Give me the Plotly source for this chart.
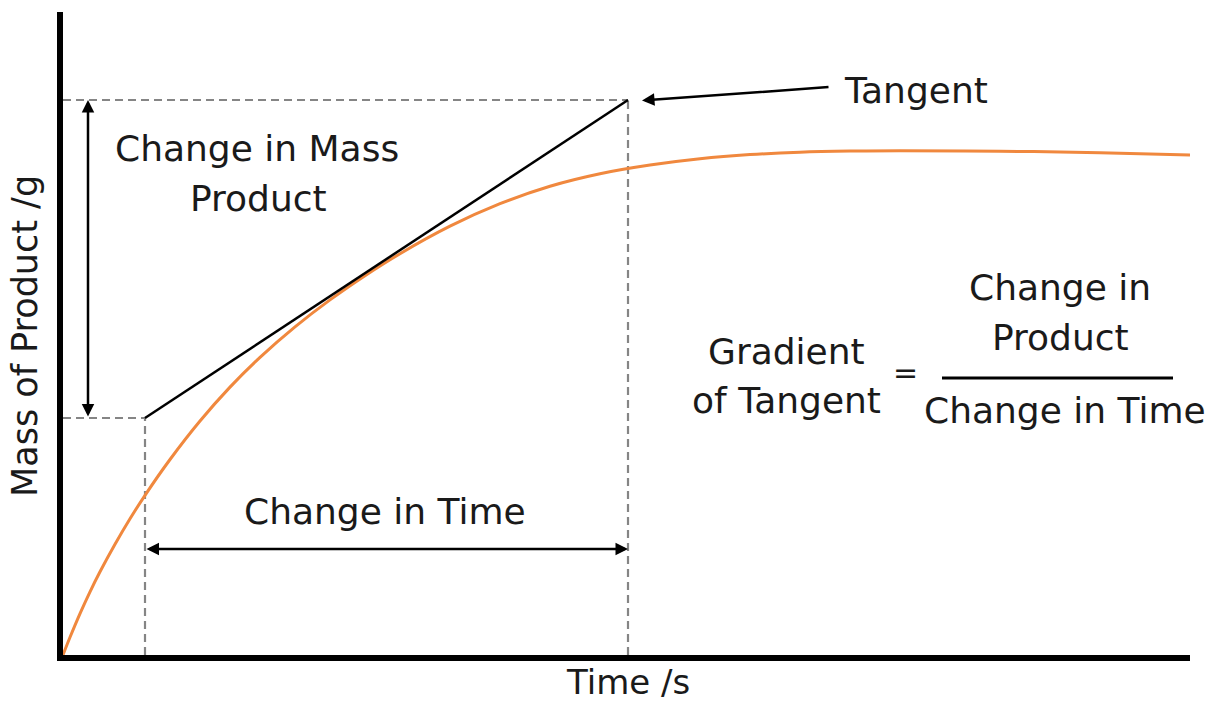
import plotly.graph_objects as go

# Reaction curve (time in arbitrary s units, mass in arbitrary g units)
time = [0, 0.7, 1.7, 2.7, 3.7, 5.2, 6.7, 8.2, 10.7, 13.7, 16.7, 19.7, 23.2, 26.7, 30.2,
        33.7, 38.7, 43.7, 48.7, 53.7, 58.7, 63.7, 68.7, 73.7, 78.7, 83.7, 93.7, 103.7, 112.7]
mass = [0, 1.77, 4.14, 6.32, 8.32, 11.07, 13.62, 15.97, 19.55, 23.4, 26.79, 29.76, 32.81,
        35.51, 37.93, 40.13, 42.88, 45.13, 46.88, 48.13, 49.0, 49.63, 50.04, 50.28, 50.39,
        50.43, 50.38, 50.23, 50.0]

# Tangent end points
tangent_t = [8.2, 56.5]
tangent_m = [23.7, 55.5]

# Arrow / label positions
mass_arrow_t = 2.5
time_arrow_m = 10.6
pointer_tail = (76.7, 56.8)
pointer_head = (57.9, 55.45)
fraction_t = [87.9, 111.0]
fraction_m = 27.7

X_MAX, Y_MAX = 112.7, 64.3
FONT = "DejaVu Sans"
TXT = "#1a1a1a"
ORANGE = "#F0883E"
GREY = "#858585"
FS = 36

fig = go.Figure()

dash = "8px,5px"
t0, t1 = tangent_t
m0, m1 = tangent_m
guides = [
    ([0, t1], [m1, m1]),
    ([t1, t1], [0, m1]),
    ([0, t0], [m0, m0]),
    ([t0, t0], [0, m0]),
]
for gx, gy in guides:
    fig.add_trace(go.Scatter(x=gx, y=gy, mode="lines",
                             line=dict(color=GREY, width=2.2, dash=dash),
                             hoverinfo="skip", showlegend=False))

fig.add_trace(go.Scatter(x=time, y=mass, mode="lines",
                         line=dict(color=ORANGE, width=3, shape="spline", smoothing=1.0),
                         showlegend=False, cliponaxis=False))

fig.add_trace(go.Scatter(x=tangent_t, y=tangent_m, mode="lines",
                         line=dict(color="black", width=2.5), showlegend=False))

fig.add_trace(go.Scatter(x=fraction_t, y=[fraction_m, fraction_m], mode="lines",
                         line=dict(color="black", width=3), showlegend=False,
                         cliponaxis=False))

arrow_common = dict(text="", showarrow=True, arrowhead=2, arrowsize=1, arrowwidth=2.5,
                    arrowcolor="black", axref="x", ayref="y", xref="x", yref="y",
                    standoff=0, startstandoff=0)
fig.add_annotation(x=mass_arrow_t, y=m1, ax=mass_arrow_t, ay=m0,
                   arrowside="end+start", startarrowhead=2, **arrow_common)
fig.add_annotation(x=t1, y=time_arrow_m, ax=t0, ay=time_arrow_m,
                   arrowside="end+start", startarrowhead=2, **arrow_common)
fig.add_annotation(x=pointer_head[0], y=pointer_head[1], ax=pointer_tail[0],
                   ay=pointer_tail[1], **arrow_common)

labels = [
    ("Tangent", 85.3, 56.5, FS),
    ("Change in Mass", 19.4, 50.7, FS),
    ("Product", 19.5, 45.7, FS),
    ("Change in Time", 32.2, 14.4, FS),
    ("Gradient", 72.3, 30.4, FS),
    ("of Tangent", 72.3, 25.5, FS),
    ("=", 84.2, 28.3, 30),
    ("Change in", 99.7, 36.8, FS),
    ("Product", 99.7, 31.8, FS),
    ("Change in Time", 100.2, 24.5, FS),
]
for txt, lx, ly, sz in labels:
    fig.add_annotation(x=lx, y=ly, xref="x", yref="y", text=txt, showarrow=False,
                       font=dict(family=FONT, size=sz, color=TXT),
                       xanchor="center", yanchor="middle")

# axis titles (placed in paper units so they are not dropped outside the axis range)
fig.add_annotation(x=56.5, xref="x", y=-2.75 / Y_MAX, yref="paper", text="Time /s",
                   showarrow=False, font=dict(family=FONT, size=FS - 2, color=TXT),
                   xanchor="center", yanchor="middle")
fig.add_annotation(x=-3.8 / X_MAX, xref="paper", y=31.9, yref="y",
                   text="Mass of Product /g", showarrow=False, textangle=-90,
                   font=dict(family=FONT, size=FS - 1, color=TXT),
                   xanchor="center", yanchor="middle")

axis_common = dict(showline=True, linewidth=6, linecolor="black", showgrid=False,
                   zeroline=False, showticklabels=False, ticks="", fixedrange=True)
fig.update_xaxes(range=[0, X_MAX], **axis_common)
fig.update_yaxes(range=[0, Y_MAX], **axis_common)

fig.update_layout(width=1214, height=704, margin=dict(l=63, r=24, t=12, b=49),
                  paper_bgcolor="white", plot_bgcolor="white", showlegend=False,
                  font=dict(family=FONT, color=TXT))

# remove the default page body margin so the figure fills the window exactly
fig.write_html("out.html", config={"displayModeBar": False},
               post_script="document.body.style.margin='0';"
                           "document.body.style.overflow='hidden';")
